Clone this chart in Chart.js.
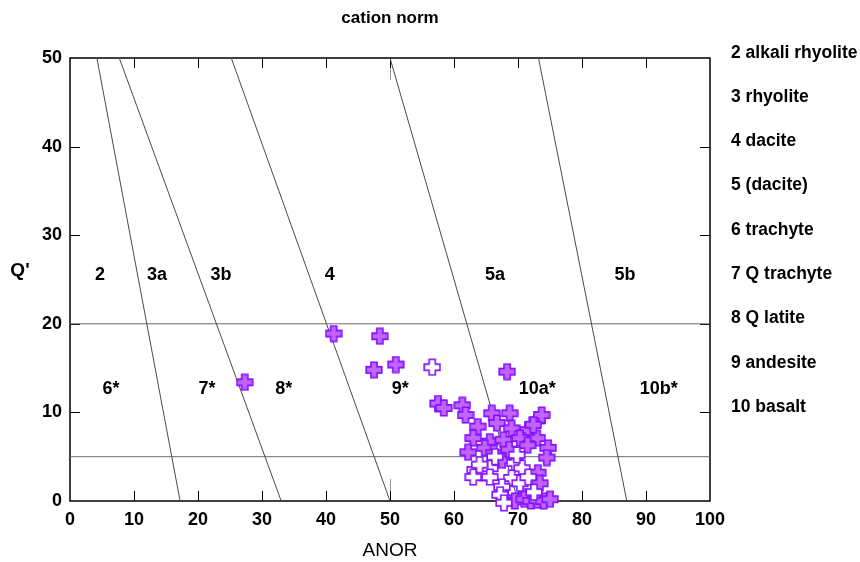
<!DOCTYPE html>
<html>
<head>
<meta charset="utf-8">
<script src="https://cdn.jsdelivr.net/npm/chart.js@4"></script>
<style>
  html, body { margin: 0; padding: 0; background: #fff; }
  #wrap { width: 860px; height: 562px; }
</style>
</head>
<body>
<div id="wrap"><canvas id="chart" width="860" height="562"></canvas></div>
<script>
// samples, filled symbols (ANOR, Q')
const filledX = [27.3, 41.2, 48.4, 47.5, 50.9, 68.3, 57.5, 58.4, 61.3, 61.8,
  63.7, 65.9, 68.7, 66.7, 69.0, 73.0, 73.7, 71.6, 63.0, 65.6,
  67.7, 70.3, 73.0, 74.7, 62.2, 64.8, 67.5, 74.5, 73.1, 70.8,
  68.0, 66.2, 68.6, 71.5, 72.4, 69.5, 71.0, 72.0, 73.0, 74.0, 75.0, 73.4];
const filledY = [13.4, 18.9, 18.6, 14.8, 15.4, 14.6, 11.0, 10.5, 10.8, 9.7,
  8.4, 9.9, 9.9, 8.8, 8.2, 9.1, 9.7, 8.0, 7.1, 6.7,
  6.9, 7.1, 7.1, 6.0, 5.5, 6.0, 4.6, 4.9, 3.2, 0.5,
  0.3, 5.4, 5.8, 6.3, 8.6, 0.0, 0.2, 0.0, 0.1, 0.0, 0.2, 2.0];

// samples, open symbols
const openX = [56.6, 63.3, 64.5, 65.6, 69.5, 70.6, 69.0, 67.5, 70.3, 71.6,
  63.0, 65.6, 66.4, 64.0, 69.8, 67.2, 67.8, 72.5];
const openY = [15.1, 3.5, 3.2, 3.7, 4.3, 3.7, 2.6, 1.6, 2.0, 2.7,
  2.7, 2.7, 5.0, 4.1, 5.2, 0.7, -0.2, 1.0];

// field boundaries
const boundTopX = [4.2, 7.7, 25.2, 50.0, 73.2];
const boundBotX = [17.2, 33.0, 50.0, 70.0, 87.0];
const horizY = [20, 5];

const xTicks = [0, 10, 20, 30, 40, 50, 60, 70, 80, 90, 100];
const yTicks = [0, 10, 20, 30, 40, 50];

const fieldNames = ['2', '3a', '3b', '4', '5a', '5b', '6*', '7*', '8*', '9*', '10a*', '10b*'];
const fieldX = [4.7, 13.6, 23.6, 40.6, 66.4, 86.7, 6.4, 21.4, 33.4, 51.6, 73.0, 92.0];
const fieldY = [25.5, 25.5, 25.5, 25.5, 25.5, 25.5, 12.6, 12.6, 12.6, 12.6, 12.6, 12.6];

const rockNames = ['2 alkali rhyolite', '3 rhyolite', '4 dacite', '5 (dacite)', '6 trachyte',
  '7 Q trachyte', '8 Q latite', '9 andesite', '10 basalt'];

const FONT = '"Liberation Sans", Arial, sans-serif';

function makeCross(fill, stroke) {
  const c = document.createElement('canvas');
  c.width = 18; c.height = 18;
  const g = c.getContext('2d');
  const m = 9, L = 7.8, w = 3.1;
  g.beginPath();
  g.moveTo(m - w, m - L); g.lineTo(m + w, m - L); g.lineTo(m + w, m - w);
  g.lineTo(m + L, m - w); g.lineTo(m + L, m + w); g.lineTo(m + w, m + w);
  g.lineTo(m + w, m + L); g.lineTo(m - w, m + L); g.lineTo(m - w, m + w);
  g.lineTo(m - L, m + w); g.lineTo(m - L, m - w); g.lineTo(m - w, m - w);
  g.closePath();
  g.fillStyle = fill;
  g.fill();
  g.lineWidth = 1.6;
  g.strokeStyle = stroke;
  g.stroke();
  return c;
}

const filledCross = makeCross('#c064ff', '#8410ff');
const openCross = makeCross('#ffffff', '#8410ff');

const datasets = [];
datasets.push({
  label: 'open',
  data: openX.map((x, i) => ({ x: x, y: openY[i] })),
  pointStyle: openCross,
  pointRadius: 9,
  showLine: false,
  clip: false,
  order: 0
});
datasets.push({
  label: 'filled',
  data: filledX.map((x, i) => ({ x: x, y: filledY[i] })),
  pointStyle: filledCross,
  pointRadius: 9,
  showLine: false,
  clip: false,
  order: 1
});
boundTopX.forEach((x, i) => {
  datasets.push({
    label: 'b' + i,
    data: [{ x: x, y: 50 }, { x: boundBotX[i], y: 0 }],
    showLine: true,
    borderColor: '#4a4a4a',
    borderWidth: 1,
    pointRadius: 0,
    order: 5
  });
});
horizY.forEach((y, i) => {
  datasets.push({
    label: 'h' + i,
    data: [{ x: 0, y: y }, { x: 100, y: y }],
    showLine: true,
    borderColor: '#6a6a6a',
    borderWidth: 1,
    pointRadius: 0,
    order: 6
  });
});

const decor = {
  id: 'decor',
  beforeDatasetsDraw(chart) {
    const ctx = chart.ctx, a = chart.chartArea;
    const xs = chart.scales.x, ys = chart.scales.y;
    ctx.save();
    // short grey marks at ANOR 50
    ctx.strokeStyle = '#9a9a9a';
    ctx.lineWidth = 1;
    const x50 = Math.round(xs.getPixelForValue(50)) + 0.5;
    ctx.beginPath();
    ctx.moveTo(x50, a.top); ctx.lineTo(x50, a.top + 22);
    ctx.moveTo(x50, a.bottom); ctx.lineTo(x50, a.bottom - 22);
    ctx.stroke();
    // inner ticks
    ctx.strokeStyle = '#000';
    ctx.beginPath();
    xTicks.slice(1, -1).forEach(v => {
      const p = Math.round(xs.getPixelForValue(v)) + 0.5;
      ctx.moveTo(p, a.bottom); ctx.lineTo(p, a.bottom - 10);
      ctx.moveTo(p, a.top); ctx.lineTo(p, a.top + 10);
    });
    yTicks.slice(1, -1).forEach(v => {
      const p = Math.round(ys.getPixelForValue(v)) + 0.5;
      ctx.moveTo(a.left, p); ctx.lineTo(a.left + 10, p);
      ctx.moveTo(a.right, p); ctx.lineTo(a.right - 10, p);
    });
    ctx.stroke();
    // frame
    ctx.lineWidth = 1.5;
    ctx.strokeRect(a.left, a.top, a.right - a.left, a.bottom - a.top);
    // field labels
    ctx.fillStyle = '#000';
    ctx.font = 'bold 18px ' + FONT;
    ctx.textAlign = 'center';
    ctx.textBaseline = 'middle';
    fieldNames.forEach((t, i) => {
      ctx.fillText(t, xs.getPixelForValue(fieldX[i]), ys.getPixelForValue(fieldY[i]));
    });
    ctx.restore();
  },
  afterDraw(chart) {
    const ctx = chart.ctx, a = chart.chartArea;
    const ys = chart.scales.y;
    ctx.save();
    ctx.fillStyle = '#000';
    ctx.textBaseline = 'middle';
    ctx.textAlign = 'center';
    ctx.font = 'bold 17px ' + FONT;
    ctx.fillText('cation norm', (a.left + a.right) / 2, 18);
    ctx.font = 'bold 19px ' + FONT;
    ctx.fillText("Q'", 20, ys.getPixelForValue(26));
    ctx.textAlign = 'left';
    ctx.font = 'bold 17.5px ' + FONT;
    rockNames.forEach((t, i) => {
      ctx.fillText(t, a.right + 21, ys.getPixelForValue(50.6 - 5 * i));
    });
    ctx.restore();
  }
};

new Chart(document.getElementById('chart'), {
  type: 'scatter',
  data: { datasets: datasets },
  options: {
    responsive: false,
    animation: false,
    events: [],
    layout: { padding: { top: 58, right: 150, left: 0, bottom: 0 } },
    plugins: { legend: { display: false }, tooltip: { enabled: false } },
    scales: {
      x: {
        type: 'linear', min: 0, max: 100,
        afterFit: s => { s.height = 61; },
        afterBuildTicks: s => { s.ticks = xTicks.map(v => ({ value: v })); },
        ticks: { color: '#000', padding: 8, maxRotation: 0, autoSkip: false,
          font: { family: FONT, size: 18, weight: 'bold' } },
        grid: { display: false, drawTicks: false },
        border: { display: false },
        title: { display: true, text: 'ANOR', color: '#000', padding: 0,
          font: { family: FONT, size: 19, weight: 'normal' } }
      },
      y: {
        type: 'linear', min: 0, max: 50,
        afterFit: s => { s.width = 70; },
        afterBuildTicks: s => { s.ticks = yTicks.map(v => ({ value: v })); },
        ticks: { color: '#000', padding: 8, autoSkip: false,
          font: { family: FONT, size: 18, weight: 'bold' } },
        grid: { display: false, drawTicks: false },
        border: { display: false }
      }
    }
  },
  plugins: [decor]
});
</script>
</body>
</html>
